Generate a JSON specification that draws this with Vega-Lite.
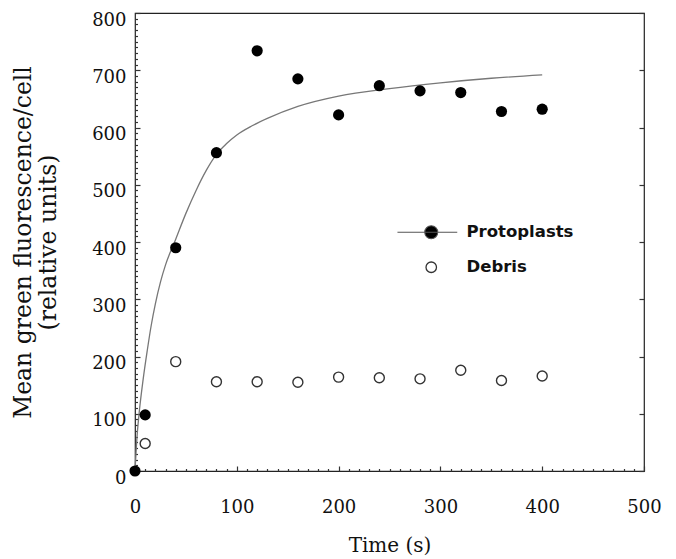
{
  "$schema": "https://vega.github.io/schema/vega-lite/v6.json",
  "width": 509,
  "height": 458,
  "autosize": "none",
  "padding": {"left": 135, "top": 13, "right": 32, "bottom": 88},
  "background": "white",
  "config": {
    "view": {"stroke": "#222", "strokeWidth": 1.2},
    "axis": {"grid": false, "domain": false, "ticks": true, "tickColor": "#333", "tickWidth": 1.2}
  },
  "datasets": {
    "fit": [
      {"t": 0, "v": 0}, {"t": 2, "v": 60}, {"t": 4, "v": 100}, {"t": 8, "v": 160},
      {"t": 12, "v": 210}, {"t": 16, "v": 255}, {"t": 20, "v": 292}, {"t": 25, "v": 330},
      {"t": 30, "v": 360}, {"t": 40, "v": 405}, {"t": 50, "v": 450}, {"t": 60, "v": 490},
      {"t": 70, "v": 525}, {"t": 80, "v": 553}, {"t": 90, "v": 572}, {"t": 100, "v": 587},
      {"t": 115, "v": 603}, {"t": 130, "v": 616}, {"t": 160, "v": 637}, {"t": 200, "v": 655},
      {"t": 250, "v": 668}, {"t": 300, "v": 678}, {"t": 350, "v": 686}, {"t": 400, "v": 692}
    ],
    "proto": [
      {"t": 0, "v": 0, "series": "Protoplasts"},
      {"t": 10, "v": 98, "series": "Protoplasts"},
      {"t": 40, "v": 390, "series": "Protoplasts"},
      {"t": 80, "v": 556, "series": "Protoplasts"},
      {"t": 120, "v": 734, "series": "Protoplasts"},
      {"t": 160, "v": 685, "series": "Protoplasts"},
      {"t": 200, "v": 622, "series": "Protoplasts"},
      {"t": 240, "v": 673, "series": "Protoplasts"},
      {"t": 280, "v": 664, "series": "Protoplasts"},
      {"t": 320, "v": 661, "series": "Protoplasts"},
      {"t": 360, "v": 628, "series": "Protoplasts"},
      {"t": 400, "v": 632, "series": "Protoplasts"}
    ],
    "debris": [
      {"t": 10, "v": 48, "series": "Debris"},
      {"t": 40, "v": 191, "series": "Debris"},
      {"t": 80, "v": 156, "series": "Debris"},
      {"t": 120, "v": 156, "series": "Debris"},
      {"t": 160, "v": 155, "series": "Debris"},
      {"t": 200, "v": 164, "series": "Debris"},
      {"t": 240, "v": 163, "series": "Debris"},
      {"t": 280, "v": 161, "series": "Debris"},
      {"t": 320, "v": 176, "series": "Debris"},
      {"t": 360, "v": 158, "series": "Debris"},
      {"t": 400, "v": 166, "series": "Debris"}
    ]
  },
  "layer": [
    {
      "data": {"name": "debris"},
      "mark": {"type": "point", "shape": "circle", "filled": false, "fill": "#ffffff", "fillOpacity": 1, "opacity": 1, "size": 100, "strokeWidth": 1.4},
      "encoding": {
        "x": {"field": "t", "type": "quantitative", "scale": {"domain": [0, 500], "nice": false, "zero": false}, "axis": null},
        "y": {
          "field": "v", "type": "quantitative",
          "scale": {"domain": [0, 800], "nice": false},
          "axis": {
            "orient": "right",
            "values": [0,100,200,300,400,500,600,700,800],
            "offset": -5, "tickSize": 5, "labels": false, "title": null
          }
        },
        "stroke": {
          "datum": "Debris", "type": "nominal",
          "scale": {"range": ["#333333"]},
          "legend": {
            "orient": "none", "legendX": 288, "legendY": 246, "title": null, "padding": 0,
            "labelFont": "DejaVu Sans", "labelFontWeight": "bold", "labelFontSize": 16.5,
            "labelColor": "#111", "labelOffset": 27,
            "symbolType": "circle", "symbolSize": 110, "symbolFillColor": "#ffffff",
            "symbolStrokeWidth": 1.3
          }
        }
      }
    },
    {
      "data": {"name": "fit"},
      "mark": {"type": "line", "stroke": "#777", "strokeWidth": 1.3, "interpolate": "monotone"},
      "encoding": {
        "x": {
          "field": "t", "type": "quantitative",
          "scale": {"domain": [0, 500], "nice": false, "zero": false},
          "axis": {
            "orient": "bottom",
            "values": [0,100,200,300,400,500],
            "offset": -5, "tickSize": 5,
            "labelFlush": false,
            "labelFont": "DejaVu Serif", "labelFontSize": 18, "labelColor": "#111",
            "labelPadding": 27,
            "title": "Time (s)", "titleFont": "DejaVu Serif", "titleFontSize": 20,
            "titleFontWeight": "normal", "titleColor": "#111",
            "titleY": 79, "titleBaseline": "middle"
          }
        },
        "y": {
          "field": "v", "type": "quantitative",
          "scale": {"domain": [0, 800], "nice": false},
          "axis": {
            "orient": "left",
            "values": [0,100,200,300,400,500,600,700,800],
            "offset": -5, "tickSize": 5,
            "labelFlush": false,
            "labelFont": "DejaVu Serif", "labelFontSize": 18, "labelColor": "#111",
            "labelPadding": 9, "labelOffset": 7,
            "title": ["Mean green fluorescence/cell", "(relative units)"],
            "titleFont": "DejaVu Serif", "titleFontSize": 23.5, "titleFontWeight": "normal",
            "titleColor": "#111", "titleLineHeight": 25,
            "titleX": -117, "titleY": 229, "titleAngle": -90,
            "titleAlign": "center", "titleBaseline": "middle"
          }
        }
      }
    },
    {
      "data": {"name": "proto"},
      "mark": {"type": "point", "shape": "circle", "filled": true, "opacity": 1, "size": 125, "strokeWidth": 0},
      "encoding": {
        "x": {
          "field": "t", "type": "quantitative",
          "scale": {"domain": [0, 500], "nice": false, "zero": false},
          "axis": {
            "orient": "bottom",
            "values": [10,20,30,40,50,60,70,80,90,110,120,130,140,150,160,170,180,190,210,220,230,240,250,260,270,280,290,310,320,330,340,350,360,370,380,390,410,420,430,440,450,460,470,480,490],
            "offset": -2.5, "tickSize": 2.5, "labels": false, "title": null
          }
        },
        "y": {
          "field": "v", "type": "quantitative",
          "scale": {"domain": [0, 800], "nice": false},
          "axis": {
            "orient": "left",
            "values": [10,20,30,40,50,60,70,80,90,110,120,130,140,150,160,170,180,190,210,220,230,240,250,260,270,280,290,310,320,330,340,350,360,370,380,390,410,420,430,440,450,460,470,480,490,510,520,530,540,550,560,570,580,590,610,620,630,640,650,660,670,680,690,710,720,730,740,750,760,770,780,790],
            "offset": -2.5, "tickSize": 2.5, "labels": false, "title": null
          }
        },
        "fill": {
          "datum": "Protoplasts", "type": "nominal",
          "scale": {"range": ["#000000"]},
          "legend": {
            "orient": "none", "legendX": 288, "legendY": 211, "title": null, "padding": 0,
            "labelFont": "DejaVu Sans", "labelFontWeight": "bold", "labelFontSize": 16.5,
            "labelColor": "#111", "labelOffset": 27,
            "symbolType": "M -5.2 0 L 4 0 M 1 0 A 1 1 0 1 1 -1 0 A 1 1 0 1 1 1 0 Z",
            "symbolSize": 169, "symbolStrokeColor": "#555", "symbolStrokeWidth": 1.1
          }
        }
      }
    }
  ],
  "resolve": {"axis": {"x": "independent", "y": "independent"}}
}
